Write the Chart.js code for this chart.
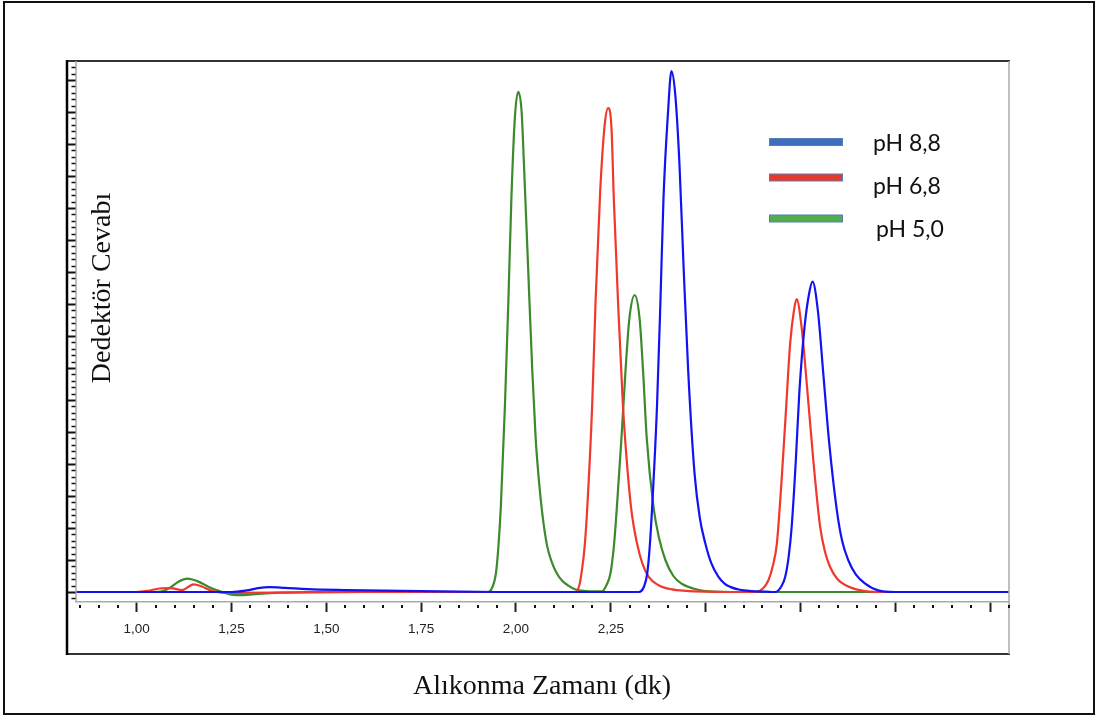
<!DOCTYPE html>
<html>
<head>
<meta charset="utf-8">
<script src="https://cdn.jsdelivr.net/npm/chart.js@4.4.0/dist/chart.umd.min.js"></script>
<style>
  html, body { margin: 0; padding: 0; background: #fff; }
  canvas { display: block; }
</style>
</head>
<body>
<canvas id="chart" width="1098" height="718"></canvas>
<script>
// retention time (dk) and detector response
const time88 = [0.84, 1.25, 1.29, 1.32, 1.35, 1.39, 1.45, 1.55, 1.65, 1.75, 1.85, 1.95,
  2.324, 2.338, 2.346, 2.352, 2.359, 2.372, 2.381, 2.389, 2.401, 2.410, 2.420, 2.431, 2.442, 2.454, 2.471,
  2.485, 2.499, 2.515, 2.534, 2.55, 2.565, 2.59, 2.62, 2.66,
  2.683, 2.700, 2.710, 2.719, 2.727, 2.738, 2.747, 2.761, 2.773, 2.782, 2.796, 2.811, 2.826, 2.846, 2.860,
  2.876, 2.896, 2.920, 2.955, 3.00, 3.30];
const resp88 = [0, 0, 0.5, 1.2, 1.5, 1.3, 0.9, 0.6, 0.4, 0.3, 0.1, 0,
  0, 1.8, 5.7, 13, 26.3, 58.4, 91, 123, 150, 162.8, 155.5, 134, 101.6, 69.4, 36.9,
  23, 15.3, 9, 4.7, 2.6, 1.6, 0.7, 0.3, 0.1,
  0, 1.8, 4.8, 11, 20.4, 41.25, 62, 82.9, 93.3, 97, 88, 67.3, 46.5, 25.6, 16,
  10, 5.5, 2.7, 0.5, 0, 0];

const time68 = [0.84, 1.00, 1.03, 1.06, 1.09, 1.12, 1.15, 1.17, 1.20, 1.24, 1.40, 1.60,
  2.157, 2.168, 2.174, 2.181, 2.188, 2.201, 2.210, 2.222, 2.234, 2.243, 2.252, 2.258, 2.269, 2.282, 2.295,
  2.306, 2.319, 2.333, 2.350, 2.375, 2.411, 2.45, 2.50, 2.55,
  2.631, 2.652, 2.666, 2.678, 2.688, 2.701, 2.712, 2.723, 2.733, 2.740, 2.753, 2.769, 2.784, 2.802, 2.815,
  2.828, 2.848, 2.868, 2.920, 2.98, 3.30];
const resp68 = [0, 0, 0.4, 1.1, 1.2, 0.6, 2.4, 1.8, 0.3, -0.3, -0.2, 0,
  0, 2.5, 6.9, 14, 26.3, 58.4, 91, 125, 146, 151.2, 144.7, 123, 91, 58.4, 36.9,
  24, 15.3, 9, 4.7, 2.2, 0.8, 0.35, 0.1, 0,
  0, 1.2, 3.75, 8.5, 15.2, 36, 56.9, 77.7, 88, 91.5, 82.9, 62, 41.25, 20.4, 12.5,
  7.9, 4, 2.2, 0.3, 0, 0];

const time50 = [0.84, 1.04, 1.07, 1.09, 1.11, 1.134, 1.16, 1.19, 1.22, 1.25, 1.28, 1.32, 1.38, 1.45,
  1.90, 1.925, 1.935, 1.947, 1.953, 1.960, 1.971, 1.980, 1.988, 1.997, 2.006, 2.015, 2.021, 2.032, 2.043,
  2.052, 2.059, 2.070, 2.082, 2.095, 2.108, 2.122, 2.138, 2.157, 2.185, 2.20,
  2.227, 2.240, 2.249, 2.258, 2.266, 2.278, 2.289, 2.299, 2.313, 2.326, 2.335, 2.345, 2.363, 2.377, 2.394,
  2.415, 2.438, 2.47, 2.50, 2.60, 3.30];
const resp50 = [0, 0, 0.3, 1.5, 3.2, 4.2, 3.4, 1.6, 0.2, -0.8, -1.0, -0.6, -0.2, 0,
  0, 0, 0.8, 5.7, 13, 26.3, 58.4, 90.9, 123, 148, 156.3, 150, 134, 101.6, 69.4,
  48, 36.9, 24, 14.5, 9.2, 5.8, 3.5, 2.0, 0.8, 0.3, 0.2,
  0.2, 2.5, 5.7, 14, 26.3, 47.8, 69.4, 85.4, 92.8, 85.4, 69.4, 47.8, 26.3, 17, 10,
  5, 2.5, 1, 0.3, 0, 0];

const seriesNames = ['pH 8,8', 'pH 6,8', 'pH 5,0'];
const lineColors = ['#1212f2', '#f0382c', '#3b8a2b'];
const legendColors = ['#3d6fbe', '#e8382c', '#4fae4a'];

const xMajorTicks = [1.00, 1.25, 1.50, 1.75, 2.00, 2.25, 2.50, 2.75, 3.00, 3.25];
const xTickValues = [1.00, 1.25, 1.50, 1.75, 2.00, 2.25];
const xTickLabels = ['1,00', '1,25', '1,50', '1,75', '2,00', '2,25'];

const xTitle = 'Alıkonma Zamanı (dk)';
const yTitle = 'Dedektör Cevabı';

const pts = (t, r) => t.map((x, i) => ({ x, y: r[i] }));

const framePlugin = {
  id: 'frame',
  beforeDraw(chart) {
    const ctx = chart.ctx;
    ctx.save();
    ctx.fillStyle = '#fff';
    ctx.fillRect(0, 0, chart.width, chart.height);
    ctx.restore();
  },
  afterDraw(chart) {
    const { ctx, chartArea: a, scales: { x, y } } = chart;
    ctx.save();
    // outer border
    ctx.strokeStyle = '#111';
    ctx.lineWidth = 2;
    ctx.strokeRect(4, 2, 1090, 712);

    // panel
    ctx.strokeStyle = '#333';
    ctx.lineWidth = 2;
    ctx.beginPath();
    ctx.moveTo(66, 654); ctx.lineTo(1010, 654);
    ctx.moveTo(66, 61); ctx.lineTo(1010, 61);
    ctx.stroke();
    ctx.strokeStyle = '#aaa';
    ctx.lineWidth = 1.5;
    ctx.beginPath();
    ctx.moveTo(a.left, a.top); ctx.lineTo(a.left, a.bottom);
    ctx.moveTo(a.right, a.top); ctx.lineTo(a.right, 654);
    ctx.stroke();
    ctx.strokeStyle = '#000';
    ctx.lineWidth = 2.5;
    ctx.beginPath();
    ctx.moveTo(67, 60); ctx.lineTo(67, 655);
    ctx.stroke();

    // y ruler ticks
    ctx.strokeStyle = '#111';
    for (let v = -2; v <= 164; v += 2) {
      const py = Math.round(y.getPixelForValue(v)) + 0.5;
      const major = v % 10 === 0;
      ctx.lineWidth = major ? 2 : 1.5;
      ctx.beginPath();
      ctx.moveTo(major ? 67 : 71.5, py);
      ctx.lineTo(a.left - 0.5, py);
      ctx.stroke();
    }

    // x minor ticks
    ctx.fillStyle = '#111';
    for (let k = 17; k <= 66; k++) {
      if (k % 5 === 0) continue;
      const px = x.getPixelForValue(k * 0.05);
      ctx.fillRect(Math.round(px) - 1, a.bottom + 3, 2, 3);
    }

    // titles
    ctx.fillStyle = '#111';
    ctx.font = '28px "Liberation Serif", "Times New Roman", serif';
    ctx.textAlign = 'center';
    ctx.textBaseline = 'middle';
    ctx.fillText(xTitle, 542, 687);
    ctx.save();
    ctx.translate(103, 288);
    ctx.rotate(-Math.PI / 2);
    ctx.fillText(yTitle, 0, 0);
    ctx.restore();

    // legend
    const barY = [142, 177.5, 218.5];
    const textY = [144, 187, 230];
    const textX = [873, 873, 876];
    ctx.font = '23px Lato, "Noto Sans", sans-serif';
    ctx.textAlign = 'left';
    seriesNames.forEach((name, i) => {
      ctx.fillStyle = legendColors[i];
      ctx.fillRect(769, barY[i] - 3.5, 74, 7);
      ctx.strokeStyle = '#5a7db5';
      ctx.lineWidth = 1;
      ctx.strokeRect(769.5, barY[i] - 3.5, 73, 7);
      ctx.fillStyle = '#111';
      ctx.fillText(name, textX[i], textY[i]);
    });
    ctx.restore();
  }
};

new Chart(document.getElementById('chart'), {
  type: 'line',
  data: {
    datasets: [
      { label: seriesNames[0], data: pts(time88, resp88), borderColor: lineColors[0] },
      { label: seriesNames[1], data: pts(time68, resp68), borderColor: lineColors[1] },
      { label: seriesNames[2], data: pts(time50, resp50), borderColor: lineColors[2] },
    ],
  },
  options: {
    responsive: false,
    animation: false,
    layout: { padding: { left: 76, right: 89, top: 61, bottom: 64 } },
    elements: {
      line: { borderWidth: 2.2, cubicInterpolationMode: 'monotone', fill: false },
      point: { radius: 0 },
    },
    plugins: { legend: { display: false }, tooltip: { enabled: false } },
    scales: {
      x: {
        type: 'linear',
        min: 0.84,
        max: 3.30,
        afterBuildTicks: s => { s.ticks = xMajorTicks.map(v => ({ value: v })); },
        afterFit: s => { s.height = 52; },
        ticks: {
          autoSkip: false,
          maxRotation: 0,
          padding: 9,
          color: '#222',
          font: { family: '"Liberation Sans", Arial, sans-serif', size: 13.5 },
          callback: v => {
            const i = xTickValues.findIndex(t => Math.abs(t - v) < 1e-6);
            return i >= 0 ? xTickLabels[i] : '';
          },
        },
        grid: { drawOnChartArea: false, tickLength: 10, tickWidth: 2, tickColor: '#222' },
        border: { display: true, color: '#aaa', width: 1.5 },
      },
      y: {
        display: false,
        min: -3.125,
        max: 165.94,
      },
    },
  },
  plugins: [framePlugin],
});
</script>
</body>
</html>
